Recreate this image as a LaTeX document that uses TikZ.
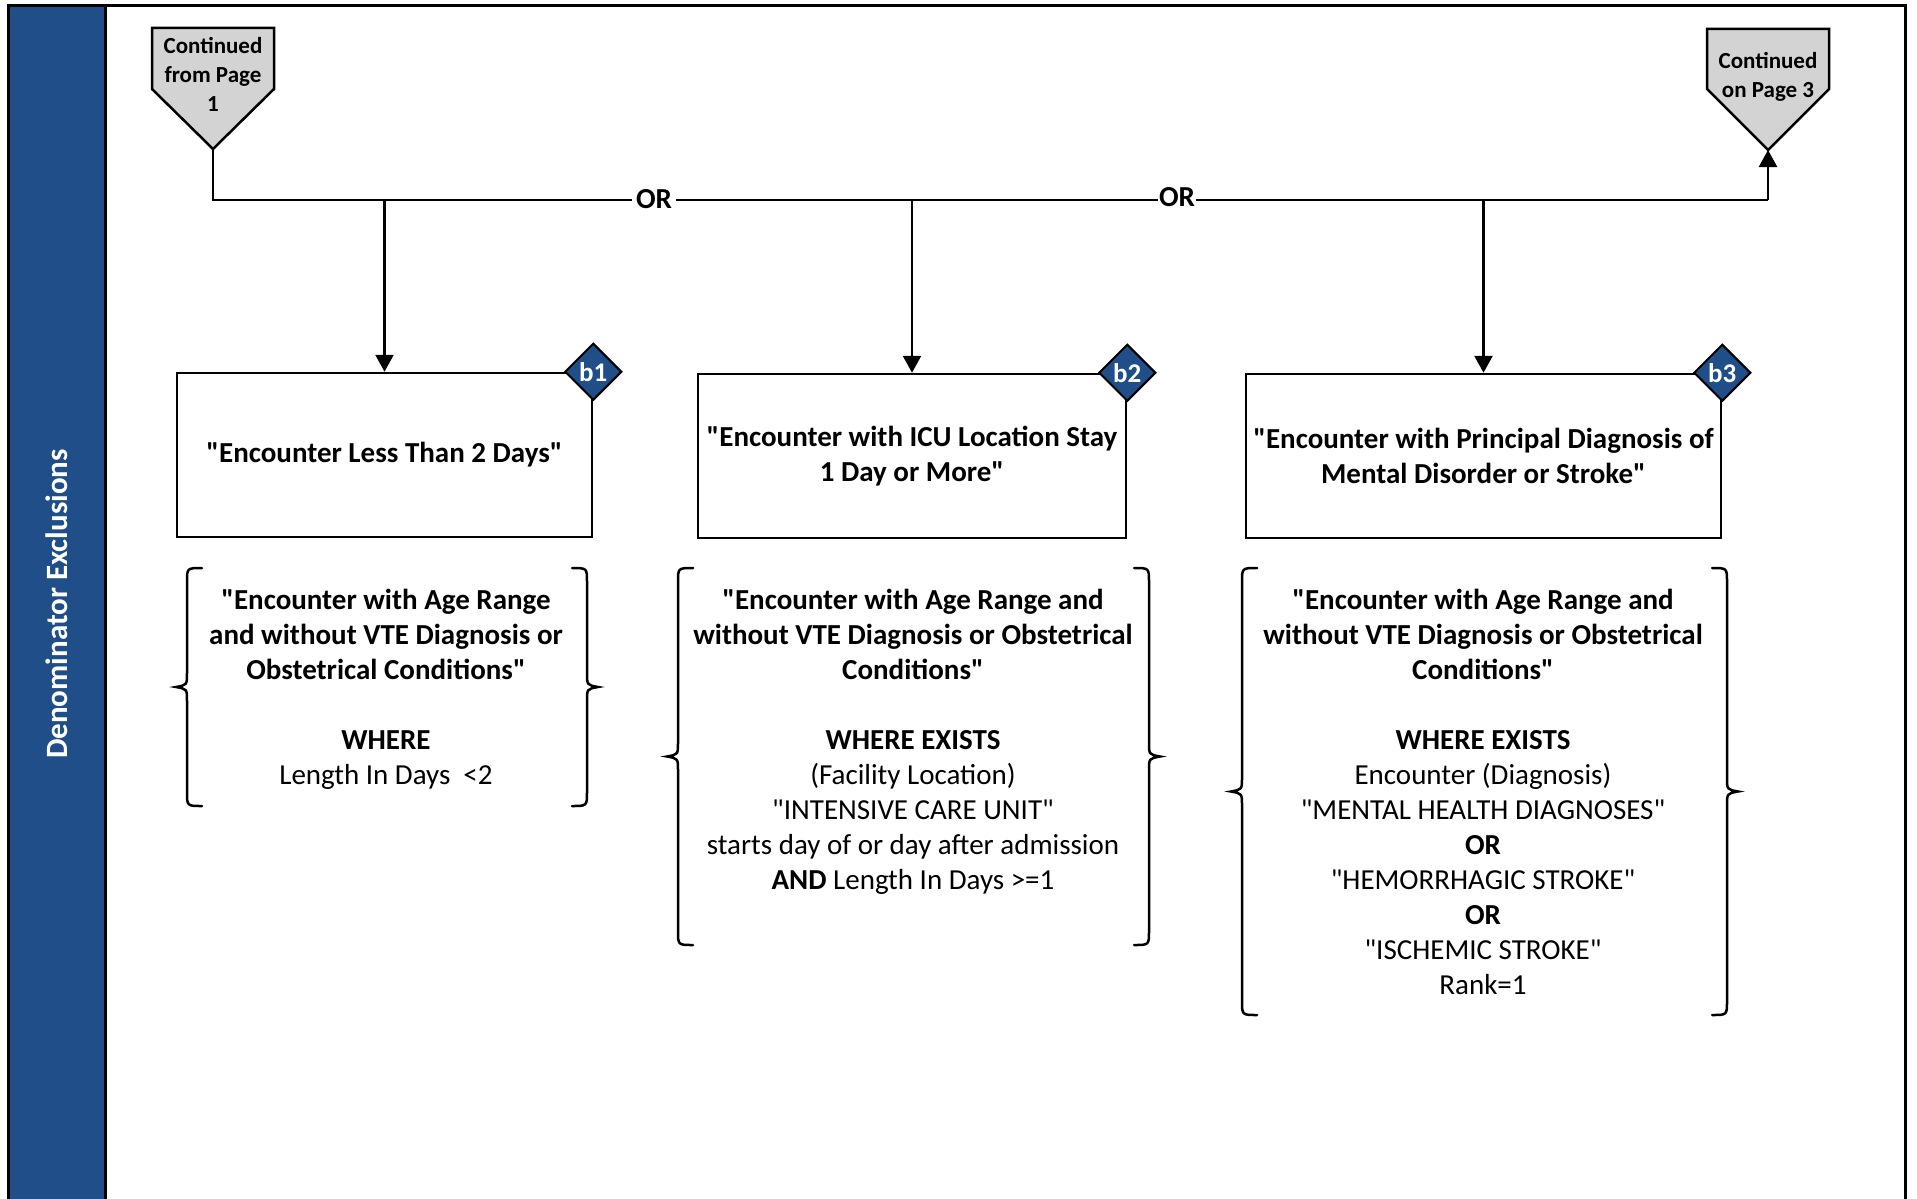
\documentclass[tikz,border=0pt]{standalone}
\usepackage{fontspec}
\setmainfont{Carlito}[Ligatures=TeXOff]
\usetikzlibrary{arrows.meta,shapes.geometric}
\definecolor{bandblue}{RGB}{31,78,137}
\definecolor{conngray}{RGB}{211,211,211}
\tikzset{
  frameline/.style={line width=3pt},
  boxnode/.style={draw, line width=2.5pt, minimum height=164pt, inner sep=0pt, align=center,
     font=\fontsize{29}{35}\selectfont\bfseries},
  tagnode/.style={diamond, draw, line width=2pt, fill=bandblue, minimum width=57pt, minimum height=57pt,
     inner sep=0pt, text=white, font=\fontsize{27}{30}\selectfont\bfseries},
  offpage/.style={draw, line width=2.5pt, fill=conngray, line join=miter},
  offtext/.style={align=center, inner sep=0pt, font=\fontsize{23}{29}\selectfont\bfseries},
  conn/.style={line width=2.5pt},
  arr/.style={line width=2.5pt, -{Triangle[width=18pt,length=17pt]}},
  ornode/.style={fill=white, inner sep=4pt, font=\fontsize{29}{35}\selectfont\bfseries},
  bracetext/.style={align=center, inner sep=0pt, font=\fontsize{29}{35}\selectfont},
  bracepath/.style={line width=2.5pt, line cap=round},
}
\newcommand{\lbrc}[4]{% x vertical, ytop, ybottom, tip x
  \pgfmathsetmacro{\ym}{(#2+#3)/2}
  \draw[bracepath] (#1+15,#2) .. controls (#1,#2) .. (#1,#2+14) -- (#1,\ym-14)
     .. controls (#1,\ym-2) .. (#4,\ym) .. controls (#1,\ym+2) .. (#1,\ym+14)
     -- (#1,#3-14) .. controls (#1,#3) .. (#1+15,#3);}
\newcommand{\rbrc}[4]{%
  \pgfmathsetmacro{\ym}{(#2+#3)/2}
  \draw[bracepath] (#1-15,#2) .. controls (#1,#2) .. (#1,#2+14) -- (#1,\ym-14)
     .. controls (#1,\ym-2) .. (#4,\ym) .. controls (#1,\ym+2) .. (#1,\ym+14)
     -- (#1,#3-14) .. controls (#1,#3) .. (#1-15,#3);}
\begin{document}
\begin{tikzpicture}[x=1pt,y=-1pt]
\useasboundingbox (0,0) rectangle (1917,1199);
% frame and band
\fill[bandblue] (8,6) rectangle (105,1210);
\draw[frameline] (8,1210) -- (8,6) -- (1905,6) -- (1905,1210);
\draw[frameline] (105,6) -- (105,1210);
\node[rotate=90, text=white, font=\fontsize{31}{36}\selectfont\bfseries] (band) at (57,604) {Denominator Exclusions};

% off-page connectors
\draw[offpage] (152,28) -- (274,28) -- (274,89) -- (213,149) -- (152,89) -- cycle;
\node[offtext] (from1) at (213,74) {Continued\\from Page\\1};
\coordinate (from1tip) at (213,149);
\draw[offpage] (1707,29) -- (1829,29) -- (1829,89) -- (1768,150) -- (1707,89) -- cycle;
\node[offtext] (on3) at (1768,77) {Continued\\on Page 3};
\coordinate (on3tip) at (1768,150);

% boxes
\node[boxnode, minimum width=415pt] (b1) at (384.5,455) {"Encounter Less Than 2 Days"};
\node[boxnode, minimum width=428pt] (b2) at (912,456) {"Encounter with ICU Location Stay\\1 Day or More"};
\node[boxnode, minimum width=475pt] (b3) at (1483.5,456) {"Encounter with Principal Diagnosis of\\Mental Disorder or Stroke"};
\node[tagnode] (t1) at (b1.north east) {b1};
\node[tagnode] (t2) at (b2.north east) {b2};
\node[tagnode] (t3) at (b3.north east) {b3};

% connectors
\coordinate (j0) at (213,200);
\coordinate (j1) at (384.5,200);
\coordinate (j2) at (912,200);
\coordinate (j3) at (1483.5,200);
\coordinate (j4) at (1768,200);
\draw[conn] (from1tip) -- (j0) -- (j4);
\draw[arr] (j4) -- (on3tip);
\draw[arr] (j1) -- (b1.north);
\draw[arr] (j2) -- (b2.north);
\draw[arr] (j3) -- (b3.north);
\node[ornode] (or1) at (654,199) {OR};
\node[ornode, inner xsep=1pt] (or2) at (1177,197) {OR};

% brace groups
\lbrc{187}{568}{806}{176}
\rbrc{587}{568}{806}{598}
\node[bracetext, anchor=north] (c1) at (386,589) {\bfseries "Encounter with Age Range\\\bfseries and without VTE Diagnosis or\\\bfseries Obstetrical Conditions"\\[35pt]\bfseries WHERE\\Length In Days\ \ {<}2};

\lbrc{678}{568}{945}{667}
\rbrc{1149}{568}{945}{1160}
\node[bracetext, anchor=north] (c2) at (913,589) {\bfseries "Encounter with Age Range and\\\bfseries without VTE Diagnosis or Obstetrical\\\bfseries Conditions"\\[35pt]\bfseries WHERE EXISTS\\(Facility Location)\\"INTENSIVE CARE UNIT"\\starts day of or day after admission\\\textbf{AND} Length In Days >=1};

\lbrc{1242}{568}{1015}{1231}
\rbrc{1727}{568}{1015}{1738}
\node[bracetext, anchor=north] (c3) at (1483,589) {\bfseries "Encounter with Age Range and\\\bfseries without VTE Diagnosis or Obstetrical\\\bfseries Conditions"\\[35pt]\bfseries WHERE EXISTS\\Encounter (Diagnosis)\\"MENTAL HEALTH DIAGNOSES"\\\bfseries OR\\"HEMORRHAGIC STROKE"\\\bfseries OR\\"ISCHEMIC STROKE"\\Rank=1};
\end{tikzpicture}
\end{document}
